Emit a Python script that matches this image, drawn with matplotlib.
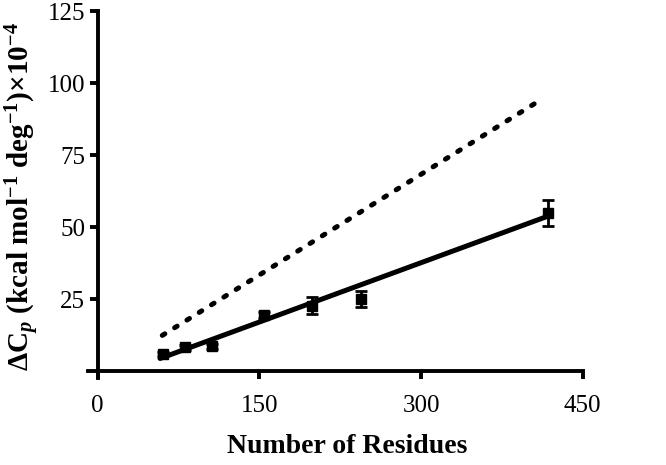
import numpy as np
import matplotlib
matplotlib.use('Agg')
import matplotlib.pyplot as plt

residues = [61, 81, 106, 154, 199, 244, 418]
dcp = [6.0, 8.4, 8.7, 19.5, 22.8, 25.0, 55.0]
dcp_err = [0.8, 0.8, 0.8, 1.0, 3.0, 2.8, 4.5]

# 회귀선 / 기준선 끝점
fit_x = [58, 415]
fit_y = [4.5, 53.5]
ref_x = [60, 410]
ref_y = [12.5, 94.0]

x_ticks = [0, 150, 300, 450]
y_ticks = [25, 50, 75, 100, 125]

plt.rcParams['font.family'] = ['Liberation Serif', 'DejaVu Serif']
plt.rcParams['mathtext.fontset'] = 'custom'
plt.rcParams['mathtext.rm'] = 'Liberation Serif:bold'
plt.rcParams['mathtext.bf'] = 'Liberation Serif:bold'
plt.rcParams['mathtext.it'] = 'Liberation Serif:italic:bold'

fig = plt.figure(figsize=(6.66, 4.65), dpi=100)
ax = fig.add_axes([0.132, 0.187, 0.875 - 0.132, 0.976 - 0.187])

# 기준선 (점선)
ax.plot(ref_x, ref_y, color='black', lw=3.6, linestyle=(0, (0.6, 2.3)),
        dash_capstyle='round')
# 회귀선 (실선)
ax.plot(fit_x, fit_y, color='black', lw=3.6, solid_capstyle='round')
# 데이터 점 + 오차막대
ax.errorbar(residues, dcp, yerr=dcp_err, fmt='s', color='black', ms=7,
            elinewidth=2, capsize=4.5, capthick=2)

ax.set_xlim(-9, 450)
ax.set_ylim(-2.3, 125)
ax.spines['left'].set_position(('data', 0))
ax.spines['bottom'].set_position(('data', 0))
ax.spines['right'].set_visible(False)
ax.spines['top'].set_visible(False)
for s in ['left', 'bottom']:
    ax.spines[s].set_linewidth(2.8)

ax.set_xticks(x_ticks)
ax.set_yticks(y_ticks)
ax.tick_params(axis='both', width=2.8, length=6, labelsize=18, direction='out')
ax.tick_params(axis='x', pad=11)
ax.tick_params(axis='y', pad=3)

fig.text(0.522, 0.039, 'Number of Residues', ha='center', va='center',
         fontsize=20, fontweight='bold')
fig.text(0.034, 0.578,
         r'$\Delta$C$_{\it p}$ (kcal mol$^{-1}$ deg$^{-1}$)$\times$10$^{-4}$',
         rotation=90, ha='center', va='center', fontsize=21, fontweight='bold')

fig.savefig('out.png', dpi=100)
